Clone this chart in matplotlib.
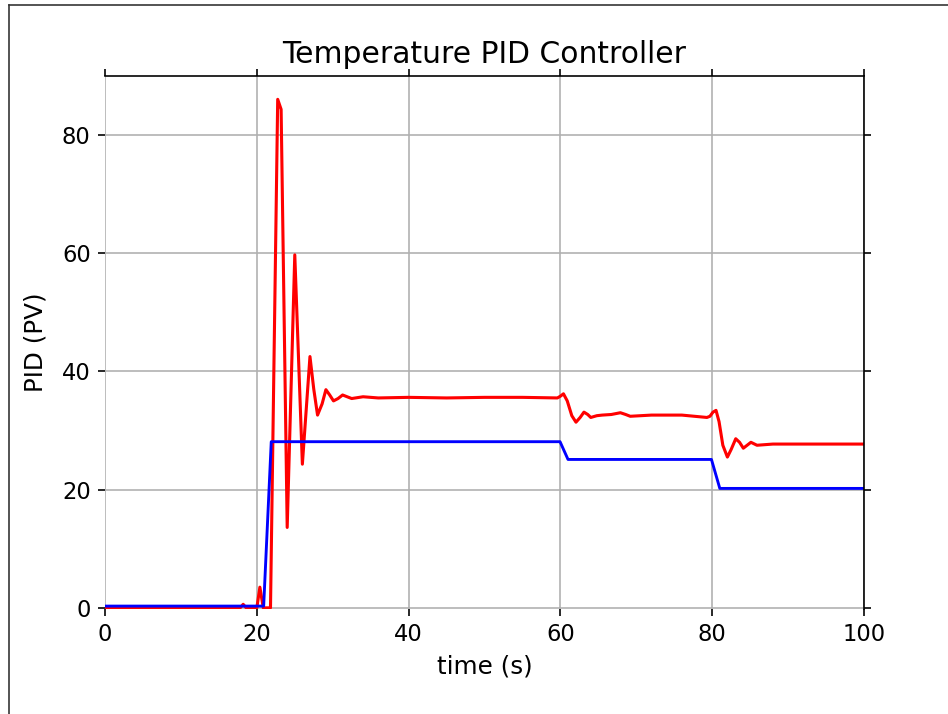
import numpy as np
import matplotlib
matplotlib.use("Agg")
import matplotlib.pyplot as plt
from matplotlib.lines import Line2D

# Setpoint (blue)
sp_time = [0, 20.9, 21.9, 59.95, 61.0, 79.9, 81.0, 100]
sp_value = [0.3, 0.3, 28.1, 28.1, 25.1, 25.1, 20.2, 20.2]

# Process value (red)
pv_time = [0, 17.8, 18.2, 18.6, 20.0, 20.4, 20.85, 21.8, 22.75, 23.2,
           24.0, 25.0, 26.0, 27.0, 27.5, 28.0, 28.6, 29.1, 29.6, 30.1,
           30.7, 31.3, 32.5, 34.0, 36.0, 40.0, 45.0, 50.0, 55.0, 59.6,
           60.0, 60.4, 60.9, 61.5, 62.05, 62.6, 63.1, 63.6, 64.0, 64.8,
           65.5, 66.7, 67.9, 68.6, 69.2, 72.0, 76.0, 79.3, 79.7, 80.1,
           80.5, 80.9, 81.4, 82.0, 82.5, 83.1, 83.6, 84.1, 84.6, 85.1,
           85.9, 88.0, 92.0, 100.0]
pv_value = [0.0, 0.0, 0.6, 0.0, 0.0, 3.5, 0.0, 0.0, 86.0, 84.3,
            13.6, 59.7, 24.3, 42.5, 37.0, 32.6, 34.5, 36.9, 36.0, 35.0,
            35.4, 36.0, 35.4, 35.7, 35.5, 35.6, 35.5, 35.6, 35.6, 35.5,
            35.8, 36.2, 35.0, 32.5, 31.4, 32.2, 33.1, 32.7, 32.2, 32.5,
            32.6, 32.7, 33.0, 32.7, 32.4, 32.6, 32.6, 32.2, 32.4, 33.1,
            33.4, 31.5, 27.5, 25.5, 26.8, 28.6, 28.0, 27.0, 27.5, 28.0,
            27.5, 27.7, 27.7, 27.7]

fig = plt.figure(figsize=(948 / 148, 714 / 148), dpi=148)
ax = fig.add_axes([0.1108, 0.147, 0.8006, 0.747])

ax.plot(pv_time, pv_value, color="r", linewidth=1.5)
ax.plot(sp_time, sp_value, color="b", linewidth=1.4)

ax.set_xlim(0, 100)
ax.set_ylim(-0.2, 90)
ax.set_xticks([0, 20, 40, 60, 80, 100])
ax.set_yticks([0, 20, 40, 60, 80])
ax.grid(True, color="#b0b0b0", linewidth=0.8)
ax.set_axisbelow(True)
ax.spines["left"].set_visible(False)
ax.spines["bottom"].set_visible(False)
ax.tick_params(direction="out", top=True, right=True, labelsize=11)

ax.set_title("Temperature PID Controller", fontsize=14.5)
ax.set_xlabel("time (s)", fontsize=12)
ax.set_ylabel("PID (PV)", fontsize=12, labelpad=7)

# screenshot frame on the top and left edges
fig.add_artist(Line2D([8.5 / 948, 1], [1 - 5 / 714, 1 - 5 / 714],
                      transform=fig.transFigure, color="#333333", linewidth=0.8))
fig.add_artist(Line2D([8.5 / 948, 8.5 / 948], [0, 1 - 5 / 714],
                      transform=fig.transFigure, color="#333333", linewidth=0.8))

fig.savefig("out.png", dpi=148)
